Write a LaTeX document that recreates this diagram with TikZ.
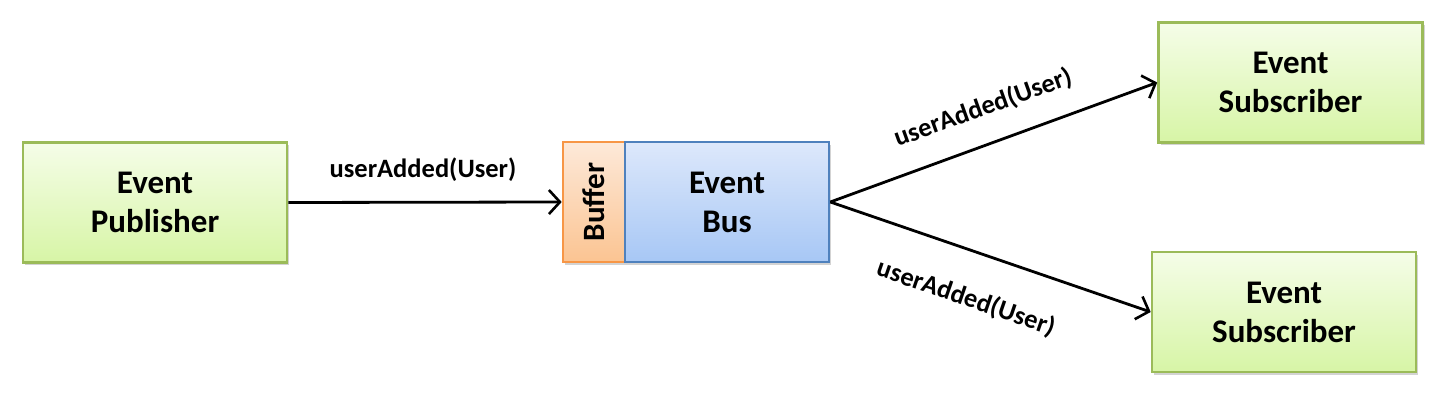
\documentclass[tikz,border=0pt]{standalone}
\usepackage{fontspec}
\setmainfont{Carlito}
\usetikzlibrary{arrows.meta,shadows}
\definecolor{grnB}{HTML}{9BBB59}
\definecolor{grnT}{HTML}{F5FDE8}
\definecolor{grnL}{HTML}{D7F5A6}
\definecolor{orB}{HTML}{F79646}
\definecolor{orT}{HTML}{FDE9D9}
\definecolor{orL}{HTML}{FBC492}
\definecolor{blB}{HTML}{4F81BD}
\definecolor{blT}{HTML}{DDE8FB}
\definecolor{blL}{HTML}{A7C7F5}
\tikzset{
  box/.style={draw, line width=2.6pt, minimum height=120pt, align=center,
    font=\bfseries\fontsize{33}{39}\selectfont, inner sep=0pt,
    drop shadow={shadow xshift=2pt, shadow yshift=-3pt, opacity=0.35}},
  greenbox/.style={box, draw=grnB, top color=grnT, bottom color=grnL, minimum width=264pt},
  bufbox/.style={box, draw=orB, top color=orT, bottom color=orL, minimum width=62pt},
  busbox/.style={box, draw=blB, top color=blT, bottom color=blL, minimum width=204pt},
  conn/.style={line width=2.8pt, -{Straight Barb[length=11pt,width=24pt,line width=2.6pt]}},
  lbl/.style={font=\bfseries\fontsize{26.5}{30}\selectfont, inner sep=0pt}
}
\begin{document}
\begin{tikzpicture}[x=1pt,y=-1pt]
\useasboundingbox (0,0) rectangle (1443,395);
\node[greenbox] (pub) at (155,202.5) {Event\\Publisher};
\node[bufbox] (buf) at (594,202) {};
\node[rotate=90, font=\bfseries\fontsize{31}{34}\selectfont] (buftext) at (buf.center) {Buffer};
\node[busbox] (bus) at (727,202) {Event\\Bus};
\node[greenbox] (sub1) at (1290.5,82.5) {Event\\Subscriber};
\node[greenbox] (sub2) at (1284,312) {Event\\Subscriber};
\coordinate (busout) at (bus.east);
\draw[conn] (pub.east) -- (buf.west);
\draw[conn] (busout) -- (sub1.west);
\draw[conn] (busout) -- (sub2.west);
\node[lbl] (l1) at (423,170) {userAdded(User)};
\node[lbl, rotate=19.7] (l2) at (983,108) {userAdded(User)};
\node[lbl, rotate=-19] (l3) at (966,298) {userAdded(User)};
\end{tikzpicture}
\end{document}
